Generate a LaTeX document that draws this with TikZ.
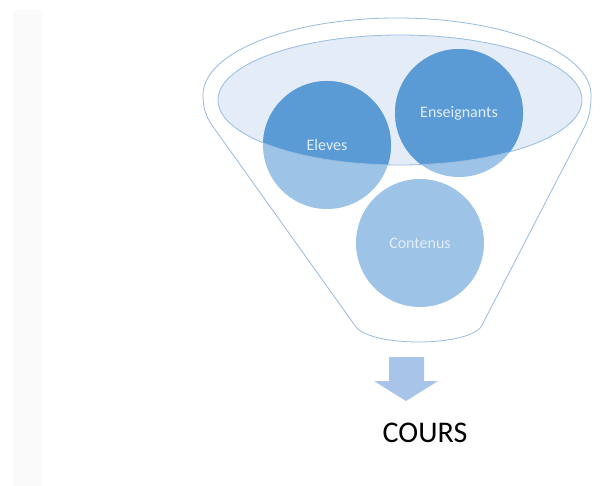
\documentclass[tikz,border=0pt]{standalone}
\usepackage{fontspec}
\setmainfont{Carlito}
\definecolor{bleuclair}{RGB}{157,195,230}
\definecolor{bleufonce}{RGB}{91,155,213}
\definecolor{voile}{RGB}{228,236,247}
\definecolor{trait}{RGB}{150,188,226}
\definecolor{fleche}{RGB}{168,196,232}
\definecolor{texteclair}{RGB}{226,238,250}
\tikzset{
  bulle/.style={circle, minimum size=128pt, inner sep=0pt, fill=bleuclair},
  etiquette/.style={text=texteclair, font=\fontsize{16}{18}\selectfont},
}
\begin{document}
\begin{tikzpicture}[x=1pt, y=1pt]
        % cadre
        \useasboundingbox (0,0) rectangle (602,-486);
        \fill[white] (0,0) rectangle (602,-486);
        \fill[black!2] (13,-10) rectangle (42,-486);

        % ouverture de l'entonnoir
        \fill[voile] (400,-100) ellipse (182 and 65);

        % les trois cercles
        \node[bulle] (eleves) at (327,-145) {};
        \node[bulle] (enseignants) at (459,-113) {};
        \node[bulle] (contenus) at (420,-243) {};

        % partie dans l'ouverture
        \begin{scope}
            \clip (400,-100) ellipse (182 and 65);
            \fill[bleufonce] (eleves.center) circle (64);
            \fill[bleufonce] (enseignants.center) circle (64);
        \end{scope}
        \draw[trait, line width=0.8pt] (400,-100) ellipse (182 and 65);

        % entonnoir
        \draw[trait, line width=0.8pt] (591,-95) arc[start angle=0, end angle=180, x radius=194, y radius=77]
            .. controls (203,-110) and (207,-119) .. (214,-128) -- (356,-327)
            .. controls (372,-347) and (465,-347) .. (481,-327) -- (584,-128)
            .. controls (589,-118) and (591,-110) .. cycle;

        % textes
        \node[etiquette] (lab-eleves) at (eleves) {Eleves};
        \node[etiquette] (lab-enseignants) at (enseignants) {Enseignants};
        \node[etiquette] (lab-contenus) at (contenus) {Contenus};

        % fleche vers le cours
        \fill[fleche] (389,-357) -- (424,-357) -- (424,-381) -- (438,-381)
            -- (406,-401) -- (374,-381) -- (389,-381) -- cycle;
        \node[font=\fontsize{30}{34}\selectfont] (cours) at (425,-433) {COURS};

    \end{tikzpicture}
\end{document}
